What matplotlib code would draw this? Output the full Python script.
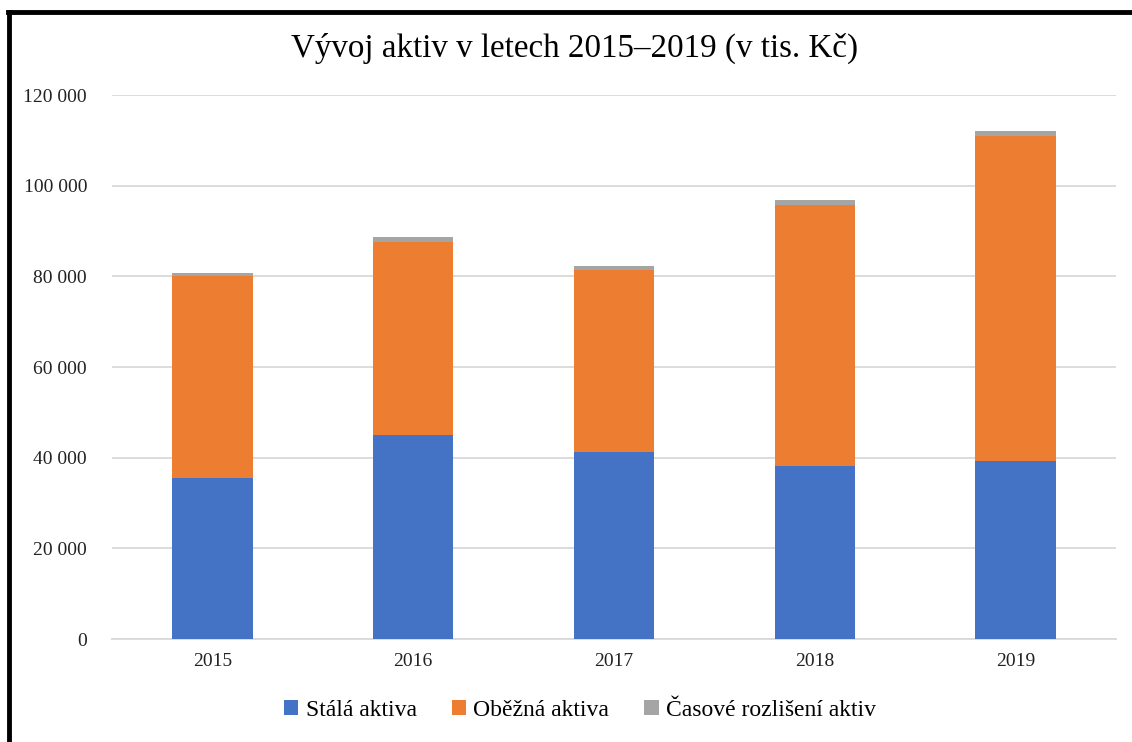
import matplotlib.pyplot as plt
from matplotlib.lines import Line2D
from matplotlib.ticker import FuncFormatter

plt.rcParams['font.family'] = ['Liberation Serif', 'DejaVu Serif']

roky = ['2015', '2016', '2017', '2018', '2019']
stala = [35500, 45000, 41300, 38200, 39300]
obezna = [44600, 42500, 40000, 57500, 71600]
casove = [600, 1100, 1000, 1200, 1100]

fig = plt.figure(figsize=(11.32, 7.42), dpi=100)
ax = fig.add_axes([112/1132, 1 - 639/742, 1004/1132, 544/742])

x = range(len(roky))
spodek2 = [a + b for a, b in zip(stala, obezna)]
ax.bar(x, stala, width=0.4, color='#4472C4', label='Stálá aktiva', zorder=3)
ax.bar(x, obezna, width=0.4, bottom=stala, color='#ED7D31', label='Oběžná aktiva', zorder=3)
ax.bar(x, casove, width=0.4, bottom=spodek2, color='#A5A5A5', label='Časové rozlišení aktiv', zorder=3)

ax.set_xlim(-0.5, 4.5)
ax.set_ylim(0, 120000)
ax.set_yticks(range(0, 120001, 20000))
ax.yaxis.set_major_formatter(FuncFormatter(lambda v, p: '{:,.0f}'.format(v).replace(',', ' ')))
ax.set_xticks(list(x))
ax.set_xticklabels(roky)
ax.tick_params(axis='both', length=0, labelsize=14, colors='#222222')
ax.tick_params(axis='y', pad=18)
ax.tick_params(axis='x', pad=10)
ax.grid(axis='y', color='#d9d9d9', linewidth=1.3, zorder=0)
for s in ['top', 'right', 'left']:
    ax.spines[s].set_visible(False)
ax.spines['bottom'].set_color('#d9d9d9')
ax.spines['bottom'].set_linewidth(1.3)

fig.text(575/1132, 1 - 48/742, 'Vývoj aktiv v letech 2015–2019 (v tis. Kč)',
         ha='center', va='center', fontsize=23.8)

fig.legend(loc='center', bbox_to_anchor=(580/1132, 1 - 710/742), ncol=3,
           frameon=False, fontsize=17, handlelength=0.6, handleheight=0.6,
           handletextpad=0.3, columnspacing=1.5)

# ramecek jen nahore a vlevo
fig.add_artist(Line2D([9/1132, 9/1132], [0, 1 - 11.5/742], transform=fig.transFigure,
                      color='black', linewidth=3.5))
fig.add_artist(Line2D([7.5/1132, 1], [1 - 11.5/742, 1 - 11.5/742], transform=fig.transFigure,
                      color='black', linewidth=3.5))

fig.savefig('out.png', dpi=100)
